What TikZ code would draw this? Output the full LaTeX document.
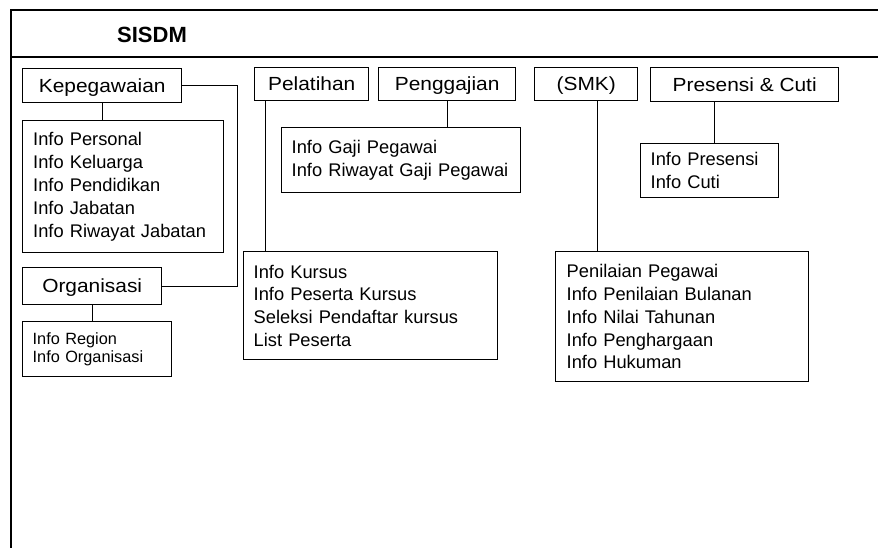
\documentclass[tikz,border=0pt]{standalone}
\usepackage{fontspec}
\setmainfont{Liberation Sans}
\newfontfamily\hdrfont[FakeStretch=1.1]{Liberation Sans}
\begin{document}
\begin{tikzpicture}[x=1pt,y=-1pt,
  frame/.style={line width=1.4pt},
  hbox/.style={draw,line width=1.4pt,anchor=north west,inner sep=0pt,
    text height=13.6pt,text depth=0.2pt,
    font=\hdrfont\fontsize{19}{23}\selectfont},
  ibox/.style={draw,line width=1.4pt,anchor=north west,inner ysep=0pt,
    inner xsep=10.5pt,align=left,font=\fontsize{18.3}{22.8}\selectfont},
  conn/.style={line width=0.8pt}]
\useasboundingbox (0,0) rectangle (878,548);
% outer frame
\coordinate (tl) at (11,10);
\coordinate (tr) at (878,10);
\coordinate (sl) at (11,57);
\coordinate (sr) at (878,57);
\coordinate (bl) at (11,548);
\draw[frame] (tr) -- (tl) -- (bl);
\draw[frame] (sl) -- (sr);
\node[font=\bfseries\fontsize{22}{26}\selectfont] (title) at (152,35) {SISDM};
% header boxes
\node[hbox,minimum width=159pt,minimum height=34pt] (kep) at (22,68) {Kepegawaian};
\node[hbox,minimum width=114pt,minimum height=33pt] (pel) at (254,67) {Pelatihan};
\node[hbox,minimum width=137pt,minimum height=33pt] (gaji) at (378,67) {Penggajian};
\node[hbox,minimum width=103pt,minimum height=33pt] (smk) at (534,67) {(SMK)};
\node[hbox,minimum width=188pt,minimum height=34pt] (pres) at (650,67) {Presensi \& Cuti};
\node[hbox,minimum width=139pt,minimum height=37pt] (org) at (22,267) {Organisasi};
% info boxes
\node[ibox,minimum width=201pt,minimum height=132pt,text width=180pt] (ikep) at (22,120)
  {Info Personal\\Info Keluarga\\Info Pendidikan\\Info Jabatan\\Info Riwayat Jabatan};
\node[ibox,minimum width=149pt,minimum height=55pt,text width=129pt,inner xsep=10pt,
  font=\fontsize{16.3}{18.5}\selectfont] (iorg) at (22,321)
  {Info Region\\Info Organisasi};
\node[ibox,minimum width=239pt,minimum height=65pt,text width=219pt,inner xsep=10pt] (igaji) at (281,127)
  {Info Gaji Pegawai\\Info Riwayat Gaji Pegawai};
\node[ibox,minimum width=254pt,minimum height=108pt,text width=234pt,inner xsep=10pt] (ipel) at (243,251)
  {Info Kursus\\Info Peserta Kursus\\Seleksi Pendaftar kursus\\List Peserta};
\node[ibox,minimum width=138pt,minimum height=54pt,text width=118pt,inner xsep=10pt] (ipres) at (640,143)
  {Info Presensi\\Info Cuti};
\node[ibox,minimum width=253pt,minimum height=130pt,text width=231pt,inner xsep=11pt] (ismk) at (555,251)
  {Penilaian Pegawai\\Info Penilaian Bulanan\\Info Nilai Tahunan\\Info Penghargaan\\Info Hukuman};
% connectors
\coordinate (kx) at (237,0);
\draw[conn] (kep.east) -- (kep.east -| kx) -- (org.east -| kx) -- (org.east);
\draw[conn] (kep.south) -- (kep.south |- ikep.north);
\draw[conn] (org.south) -- (org.south |- iorg.north);
\coordinate (px) at (265,0);
\draw[conn] (pel.south -| px) -- (ipel.north -| px);
\draw[conn] (gaji.south) -- (gaji.south |- igaji.north);
\coordinate (sx) at (597,0);
\draw[conn] (smk.south -| sx) -- (ismk.north -| sx);
\coordinate (prx) at (714,0);
\draw[conn] (pres.south -| prx) -- (ipres.north -| prx);
\end{tikzpicture}
\end{document}
